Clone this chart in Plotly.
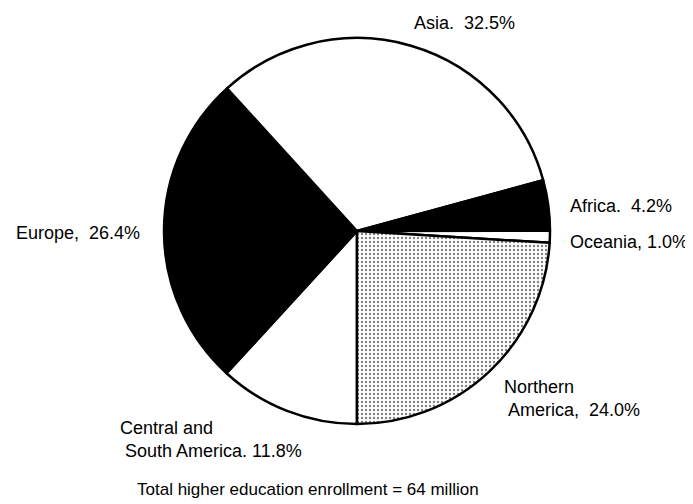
import plotly.graph_objects as go

regions = ["Central and South America", "Europe", "Asia", "Africa", "Oceania", "Northern America"]
shares = [11.8, 26.4, 32.5, 4.2, 1.0, 24.0]
fills = ["#ffffff", "#000000", "#ffffff", "#000000", "#ffffff", "#ffffff"]
patterns = ["", "", "", "", "", "."]

label_texts = [
    "Central and<br> South America. 11.8%",
    "Europe,\u00a0 26.4%",
    "Asia.\u00a0 32.5%",
    "Africa.\u00a0 4.2%",
    "Oceania, 1.0%",
    "Northern<br> America,\u00a0 24.0%",
]
title_text = "Total higher education enrollment = 64 million"

W, H = 693, 504
OFF = 8  # page body margin offset
cx, cy, r = 357 - OFF, 231 - OFF, 193

fig = go.Figure(go.Pie(
    labels=regions,
    values=shares,
    sort=False,
    direction="clockwise",
    rotation=180,
    textinfo="none",
    hoverinfo="label+percent",
    marker=dict(
        colors=fills,
        line=dict(color="#000000", width=2.5),
        pattern=dict(shape=patterns, fgcolor="#000000", bgcolor="#ffffff",
                     size=4, solidity=0.28, fillmode="overlay"),
    ),
    domain=dict(x=[(cx - r) / W, (cx + r) / W], y=[(H - cy - r) / H, (H - cy + r) / H]),
    showlegend=False,
))

# label positions (left x, center y) in pixels of the reference
label_pos = [(118, 439), (14, 233), (412, 23), (568, 206), (568, 242), (502, 398)]
font = dict(family="Liberation Sans, Arial, sans-serif", size=18, color="#000000")
for txt, (px, py) in zip(label_texts, label_pos):
    fig.add_annotation(x=(px - OFF) / W, y=1 - (py - OFF) / H, xref="paper", yref="paper",
                       text=txt, showarrow=False, xanchor="left", yanchor="middle",
                       align="left", font=font)

fig.add_annotation(x=(135 - OFF) / W, y=1 - (489 - OFF) / H, xref="paper", yref="paper",
                   text=title_text, showarrow=False, xanchor="left", yanchor="middle",
                   font=dict(family="Liberation Sans, Arial, sans-serif",
                             size=17, color="#000000"))

fig.update_layout(width=W, height=H, margin=dict(l=0, r=0, t=0, b=0),
                  paper_bgcolor="#ffffff", plot_bgcolor="#ffffff")
fig.write_html("out.html")
